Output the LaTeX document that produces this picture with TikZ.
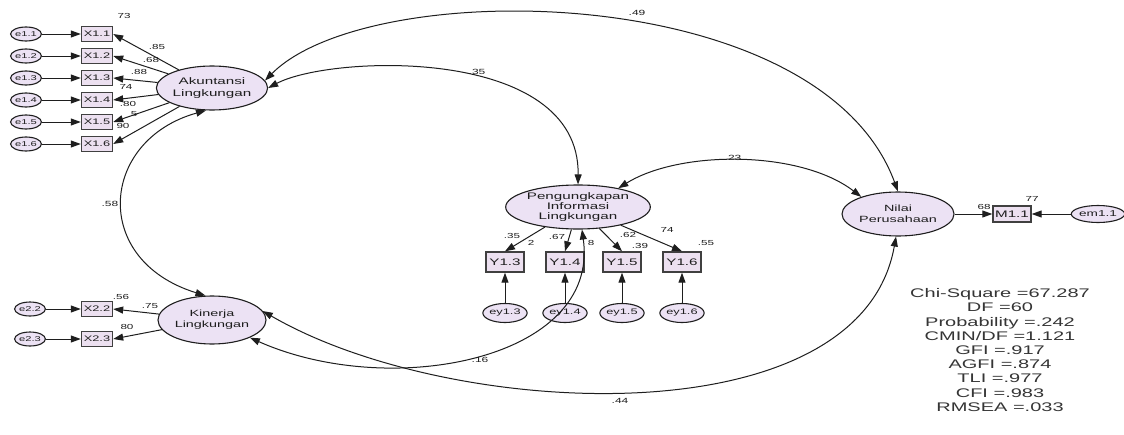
\documentclass[tikz,border=0pt]{standalone}
\usepackage{fontspec}
\setmainfont{Liberation Sans}
\usepackage{graphicx}
\usetikzlibrary{arrows.meta,shapes.geometric}
\definecolor{latfill}{RGB}{236,226,244}
\definecolor{boxfill}{RGB}{236,224,240}
\definecolor{ink}{RGB}{30,30,30}
\newcommand{\sx}[1]{\scalebox{1.6}[1]{#1}}
\begin{document}
\begin{tikzpicture}[x=1pt,y=-1pt,
 lat/.style={ellipse, draw=ink, line width=1.1pt, fill=latfill, inner sep=0pt, align=center, text=ink},
 err/.style={ellipse, draw=ink, line width=1.1pt, fill=latfill, inner sep=0pt, text=ink},
 obs/.style={rectangle, draw=ink!85, line width=1.4pt, fill=boxfill, inner sep=0pt, text=ink},
 reg/.style={draw=ink, line width=1pt, -{Triangle[length=10pt,width=7pt]}},
 cov/.style={draw=ink, line width=1pt, {Triangle[length=10pt,width=7pt]}-{Triangle[length=10pt,width=7pt]}},
 lab/.style={inner sep=0pt, text=ink, font=\fontsize{7.3}{8}\selectfont},
]
\useasboundingbox[fill=white] (0,0) rectangle (1124,434);

% latent variables
\node[lat, minimum width=110pt, minimum height=44pt, font=\fontsize{9.5}{12}\selectfont] (ak) at (212,88) {\sx{Akuntansi}\\\sx{Lingkungan}};
\node[lat, minimum width=108pt, minimum height=48pt, font=\fontsize{9}{11}\selectfont] (kn) at (212,320) {\sx{Kinerja}\\\sx{Lingkungan}};
\node[lat, minimum width=116pt, minimum height=44pt, font=\fontsize{9.5}{10}\selectfont] (pg) at (578,207) {\sx{Pengungkapan}\\\sx{Informasi}\\\sx{Lingkungan}};
\node[lat, minimum width=112pt, minimum height=44pt, font=\fontsize{9}{10.5}\selectfont] (nv) at (898,214) {\sx{Nilai}\\\sx{Perusahaan}};

% Akuntansi indicators
\foreach \i/\y in {1/34,2/56,3/78,4/100,5/122,6/144}{
  \node[err, minimum width=30pt, minimum height=14pt, font=\fontsize{7}{8}\selectfont] (e1\i) at (26,\y) {\sx{e1.\i}};
  \node[obs, minimum width=31pt, minimum height=15pt, font=\fontsize{8}{9}\selectfont] (x1\i) at (97,\y) {\sx{X1.\i}};
  \draw[reg] (e1\i) -- (x1\i);
  \draw[reg] (ak) -- (x1\i.east);
}

% Kinerja indicators
\foreach \i/\y in {2/309,3/339}{
  \node[err, minimum width=26pt, minimum height=14pt, font=\fontsize{7}{8}\selectfont] (e2\i) at (30,\y) {\sx{e2.\i}};
  \node[obs, minimum width=31pt, minimum height=15pt, font=\fontsize{8}{9}\selectfont] (x2\i) at (97,\y) {\sx{X2.\i}};
  \draw[reg] (e2\i) -- (x2\i);
  \draw[reg] (kn) -- (x2\i.east);
}

% Pengungkapan indicators
\foreach \i/\x in {3/505,4/565,5/622,6/682}{
  \node[obs, minimum width=38pt, minimum height=20pt, font=\fontsize{9.5}{10}\selectfont] (y1\i) at (\x,262) {\sx{Y1.\i}};
  \node[err, minimum width=41pt, minimum height=19pt, font=\fontsize{8}{9}\selectfont] (ey1\i) at (\x,313) {\sx{ey1.\i}};
  \draw[reg] (ey1\i) -- (y1\i);
  \draw[reg] (pg) -- (y1\i.north);
}

% Nilai indicator
\node[obs, minimum width=38pt, minimum height=16pt, font=\fontsize{9.5}{10}\selectfont] (m11) at (1012,214) {\sx{M1.1}};
\node[err, minimum width=46pt, minimum height=17pt, font=\fontsize{8.5}{9}\selectfont] (em11) at (1098,214) {\sx{em1.1}};
\draw[reg] (nv) -- (m11);
\draw[reg] (em11) -- (m11);

% curved connectors
\draw[cov] (ak.8) .. controls (370,-25) and (820,-20) .. (nv.north);
\draw[cov] (ak.east) .. controls (330,55) and (580,45) .. (pg.north);
\draw[cov] (pg.25) .. controls (680,150) and (800,150) .. (nv.155);
\draw[cov] (ak.255) .. controls (100,140) and (90,260) .. (kn.105);
\draw[cov] (kn.10) .. controls (450,420) and (860,440) .. (nv.265);
\draw[cov] (kn.335) .. controls (390,400) and (600,360) .. (pg.280);

% structural labels
\node[lab, font=\fontsize{7.5}{8}\selectfont] (l49) at (637,13) {\sx{.49}};
\node[lab, font=\fontsize{7.5}{8}\selectfont] (l35) at (477,72) {\sx{.35}};
\node[lab, font=\fontsize{7.5}{8}\selectfont] (l23) at (733,158) {\sx{.23}};
\node[lab, font=\fontsize{7.5}{8}\selectfont] (l58) at (110,204) {\sx{.58}};
\node[lab, font=\fontsize{7.5}{8}\selectfont] (l16) at (480,360) {\sx{.16}};
\node[lab, font=\fontsize{7.5}{8}\selectfont] (l44) at (620,401) {\sx{.44}};

% measurement labels
\node[lab] (a1) at (124,16) {\sx{73}};
\node[lab] (a2) at (157,47) {\sx{.85}};
\node[lab] (a3) at (151,60) {\sx{.68}};
\node[lab] (a4) at (139,72) {\sx{.88}};
\node[lab] (a5) at (126,87) {\sx{74}};
\node[lab] (a6) at (128,104) {\sx{.80}};
\node[lab] (a7) at (134,114) {\sx{5}};
\node[lab] (a8) at (123,126) {\sx{90}};
\node[lab] (b1) at (121,297) {\sx{.56}};
\node[lab] (b2) at (150,306) {\sx{.75}};
\node[lab] (b3) at (127,327) {\sx{80}};
\node[lab] (c1) at (512,236) {\sx{.35}};
\node[lab] (c2) at (531,243) {\sx{2}};
\node[lab] (c3) at (557,237) {\sx{.67}};
\node[lab] (c4) at (591,243) {\sx{8}};
\node[lab] (c5) at (628,235) {\sx{.62}};
\node[lab] (c6) at (667,230) {\sx{74}};
\node[lab] (c7) at (640,246) {\sx{.39}};
\node[lab] (c8) at (706,243) {\sx{.55}};
\node[lab] (d1) at (984,207) {\sx{68}};
\node[lab] (d2) at (1032,199) {\sx{77}};

% fit statistics
\node[align=center, inner sep=0pt, text=ink!90, font=\fontsize{12.5}{14.2}\selectfont] (fit) at (1000,350) {%
\sx{Chi-Square =67.287}\\
\sx{DF =60}\\
\sx{Probability =.242}\\
\sx{CMIN/DF =1.121}\\
\sx{GFI =.917}\\
\sx{AGFI =.874}\\
\sx{TLI =.977}\\
\sx{CFI =.983}\\
\sx{RMSEA =.033}};
\end{tikzpicture}
\end{document}
